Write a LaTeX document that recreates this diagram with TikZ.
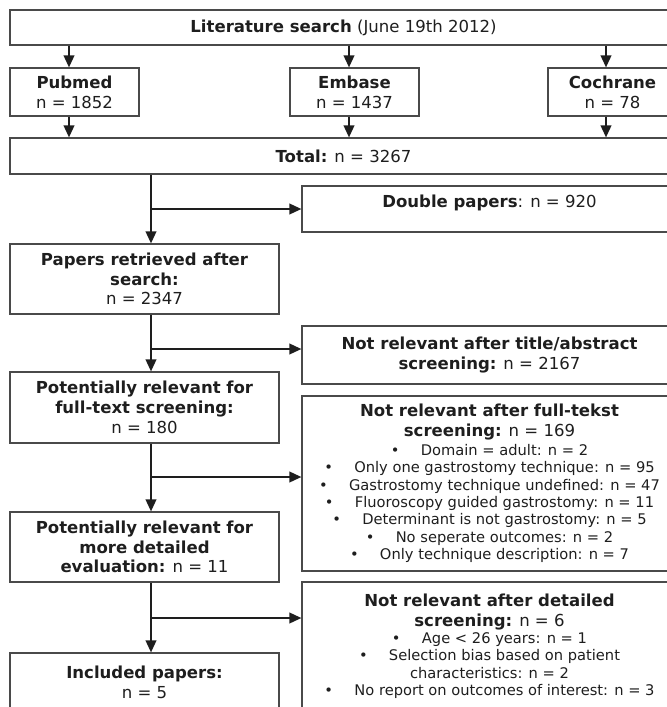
\documentclass[tikz,border=0pt]{standalone}
\usepackage{fontspec}
\setmainfont{DejaVu Sans}
\usetikzlibrary{arrows.meta}
\definecolor{ink}{HTML}{1E1E1E}
\definecolor{frame}{HTML}{4A4A4A}
\newcommand{\smalltxt}[1]{{\fontsize{11}{12.9}\selectfont #1}}
\newcommand{\bulletline}[1]{\smalltxt{\textbullet\hspace{16pt}#1}}
\begin{document}
\begin{tikzpicture}[x=0.75pt,y=-0.75pt,
  box/.style={draw=frame, line width=0.9pt, inner sep=0pt, align=center, text=ink,
    font=\fontsize{12.4}{14.8}\selectfont},
  widebox/.style={box, minimum width=500.25pt},
  srcbox/.style={box, minimum width=96.75pt, minimum height=36pt},
  leftbox/.style={box, minimum width=201.75pt},
  rightbox/.style={box, minimum width=281.25pt},
  flow/.style={draw=ink, line width=1.3pt, -{Triangle[width=8pt,length=9pt]}}]
\useasboundingbox (0,0) rectangle (667,707);
\clip (0,0) rectangle (667,707);

% boxes
\node (top) [widebox, minimum height=26.25pt] at (343.5,27.5) {\textbf{Literature search} (June 19th 2012)};
\node (pub) [srcbox] at (74.5,92) {\textbf{Pubmed}\\n = 1852};
\node (emb) [srcbox] at (354.5,92) {\textbf{Embase}\\n = 1437};
\node (coc) [srcbox] at (612.5,92) {\textbf{Cochrane}\\n = 78};
\node (tot) [widebox, minimum height=27pt] at (343.5,156) {\textbf{Total:} n = 3267};
\node (dbl) [rightbox, minimum height=34.5pt] at (489.5,209)
  {\raisebox{0pt}[\height][\dimexpr\depth+9pt\relax]{\textbf{Double papers}: n = 920}};
\node (ret) [leftbox, minimum height=52.5pt] at (144.5,279)
  {\textbf{Papers retrieved after}\\\textbf{search:}\\n = 2347};
\node (tab) [rightbox, minimum height=43.5pt] at (489.5,355)
  {\textbf{Not relevant after title/abstract}\\\textbf{screening:} n = 2167};
\node (fts) [leftbox, minimum height=53.25pt] at (144.5,407.5)
  {\textbf{Potentially relevant for}\\\textbf{full-text screening:}\\n = 180};
\node (ftk) [rightbox, minimum height=131.25pt] at (489.5,483.5)
  {\textbf{Not relevant after full-tekst}\\\textbf{screening:} n = 169\\[-0.6pt]
   \bulletline{Domain = adult: n = 2}\\[-1.8pt]
   \bulletline{Only one gastrostomy technique: n = 95}\\[-1.8pt]
   \bulletline{Gastrostomy technique undefined: n = 47}\\[-1.8pt]
   \bulletline{Fluoroscopy guided gastrostomy: n = 11}\\[-1.8pt]
   \bulletline{Determinant is not gastrostomy: n = 5}\\[-1.8pt]
   \bulletline{No seperate outcomes: n = 2}\\[-1.8pt]
   \bulletline{Only technique description: n = 7}};
\node (evl) [leftbox, minimum height=52.5pt] at (144.5,547)
  {\textbf{Potentially relevant for}\\\textbf{more detailed}\\\textbf{evaluation:} n = 11};
\node (det) [rightbox, minimum height=96.75pt] at (489.5,646.5)
  {\textbf{Not relevant after detailed}\\\textbf{screening:} n = 6\\[-2pt]
   \bulletline{Age < 26 years: n = 1}\\[-1.6pt]
   \bulletline{Selection bias based on patient}\\[-1.8pt]
   \smalltxt{characteristics: n = 2}\\[-1.6pt]
   \bulletline{No report on outcomes of interest: n = 3}};
\node (inc) [leftbox, minimum height=43.5pt] at (144.5,682)
  {\textbf{Included papers:}\\n = 5};

% helper coordinates
\coordinate (ax1) at (69,0);
\coordinate (ax2) at (349,0);
\coordinate (ax3) at (606,0);
\coordinate (tx) at (151,0);
\coordinate (b2) at (0,349);
\coordinate (b3) at (0,477);
\coordinate (b4) at (0,618);

% connectors
\draw[flow] (top.south -| ax1) -- (pub.north -| ax1);
\draw[flow] (top.south -| ax2) -- (emb.north -| ax2);
\draw[flow] (top.south -| ax3) -- (coc.north -| ax3);
\draw[flow] (pub.south -| ax1) -- (tot.north -| ax1);
\draw[flow] (emb.south -| ax2) -- (tot.north -| ax2);
\draw[flow] (coc.south -| ax3) -- (tot.north -| ax3);

\draw[flow] (tot.south -| tx) -- (ret.north -| tx);
\draw[flow] (tx |- dbl.west) -- (dbl.west);
\draw[flow] (ret.south -| tx) -- (fts.north -| tx);
\draw[flow] (tx |- b2) -- (tab.west |- b2);
\draw[flow] (fts.south -| tx) -- (evl.north -| tx);
\draw[flow] (tx |- b3) -- (ftk.west |- b3);
\draw[flow] (evl.south -| tx) -- (inc.north -| tx);
\draw[flow] (tx |- b4) -- (det.west |- b4);
\end{tikzpicture}
\end{document}
